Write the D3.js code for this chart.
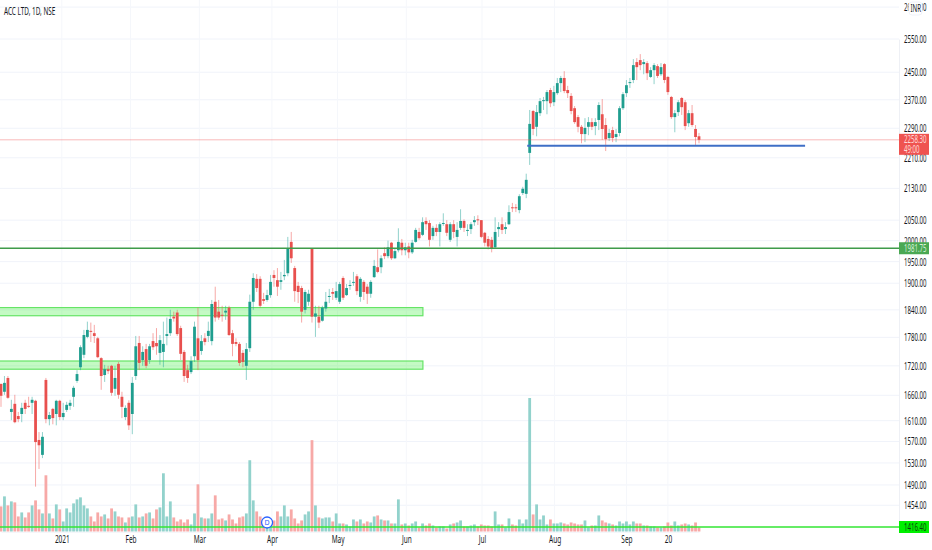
<!DOCTYPE html>
<html>
<head>
<meta charset="utf-8">
<script src="https://cdn.jsdelivr.net/npm/d3@7"></script>
<style>
  html, body { margin: 0; padding: 0; background: #fff; }
  svg { display: block; }
  text { font-family: "Noto Sans", sans-serif; fill: #131722; }
</style>
</head>
<body>
<svg id="chart" width="932" height="550"></svg>
<script>
const opens = [
  1683,1667,1695,1627,1643,1619,1623,1645,1639,1645,
  1649,1573,1545,1691,1613,1633,1623,1649,1617,1631,
  1639,1657,1689,1717,1743,1781,1794,1789,1778,1736,
  1701,1713,1720,1673,1724,1657,1617,1645,1623,1699,
  1768,1732,1755,1732,1772,1768,1747,1749,1783,1789,
  1825,1834,1800,1749,1711,1707,1740,1778,1751,1778,
  1783,1772,1858,1836,1829,1834,1845,1789,1770,1766,
  1747,1720,1757,1858,1910,1910,1864,1862,1873,1919,
  1907,1903,1916,1923,1997,1935,1894,1889,1840,1858,
  1982,1825,1825,1816,1843,1869,1880,1867,1858,1912,
  1873,1894,1901,1916,1869,1903,1892,1876,1914,1937,
  1937,1970,1963,1995,1958,1977,1995,1977,1986,1972,
  1997,2021,2014,2048,2043,2011,2031,2021,2041,2040,
  2002,2040,2009,2031,2048,2024,2028,2045,2052,2050,
  2019,2004,2002,1984,2028,2040,2028,2040,2082,2082,
  2075,2118,2116,2223,2338,2294,2332,2366,2366,2398,
  2363,2389,2418,2433,2398,2381,2346,2321,2294,2274,
  2294,2307,2296,2313,2329,2299,2263,2285,2266,2277,
  2346,2389,2418,2427,2480,2486,2474,2477,2436,2456,
  2468,2444,2474,2436,2378,2321,2335,2375,2363,2304,
  2332,2288,2268
];
const highs = [
  1683,1699,1699,1651,1661,1627,1645,1651,1657,1657,
  1651,1588,1588,1695,1627,1635,1651,1651,1645,1647,
  1651,1679,1711,1763,1796,1814,1812,1807,1781,1738,
  1722,1720,1722,1720,1728,1667,1640,1650,1697,1783,
  1783,1761,1766,1766,1789,1800,1785,1814,1823,1840,
  1836,1840,1805,1753,1722,1740,1814,1845,1785,1789,
  1814,1862,1892,1862,1849,1849,1849,1796,1778,1770,
  1753,1768,1874,1923,1921,1916,1878,1885,1919,1930,
  1935,1926,1954,2009,2021,1940,1903,1894,1885,1885,
  1982,1849,1849,1849,1880,1887,1889,1903,1903,1916,
  1898,1907,1926,1921,1914,1907,1898,1907,1954,1979,
  1965,1984,2000,1997,1982,2030,2004,1995,1995,2002,
  2031,2031,2057,2057,2050,2036,2040,2045,2067,2050,
  2045,2050,2045,2077,2052,2040,2045,2060,2062,2050,
  2021,2011,2009,2057,2045,2057,2045,2087,2093,2090,
  2115,2134,2168,2341,2341,2355,2375,2378,2398,2404,
  2410,2433,2439,2453,2410,2389,2352,2327,2299,2318,
  2321,2318,2318,2363,2372,2318,2288,2294,2288,2352,
  2392,2427,2433,2489,2492,2504,2489,2483,2465,2477,
  2474,2477,2477,2439,2381,2341,2369,2378,2369,2341,
  2355,2299,2277
];
const lows = [
  1637,1661,1653,1611,1605,1607,1607,1623,1635,1623,
  1487,1519,1539,1605,1601,1603,1601,1611,1611,1627,
  1631,1637,1685,1711,1736,1778,1770,1768,1736,1671,
  1687,1703,1659,1659,1653,1615,1611,1592,1584,1691,
  1711,1720,1715,1724,1753,1743,1722,1717,1763,1783,
  1814,1783,1732,1687,1685,1703,1728,1711,1743,1763,
  1770,1763,1814,1818,1814,1818,1783,1740,1761,1720,
  1717,1691,1749,1840,1880,1845,1853,1858,1867,1892,
  1871,1885,1907,1916,1947,1858,1855,1812,1832,1849,
  1812,1781,1800,1814,1836,1855,1862,1862,1853,1862,
  1871,1885,1894,1873,1858,1862,1853,1867,1912,1923,
  1923,1956,1958,1954,1956,1972,1965,1965,1958,1968,
  1995,2002,2011,2026,1986,2002,2011,1986,2036,2011,
  1997,2006,1986,2026,2021,2011,2016,2036,2038,2006,
  1986,1979,1972,1982,2009,2016,2016,2038,2070,2070,
  2067,2113,2105,2191,2271,2268,2324,2341,2329,2349,
  2352,2384,2392,2389,2375,2329,2302,2279,2249,2252,
  2271,2285,2271,2285,2258,2228,2255,2252,2252,2268,
  2341,2378,2404,2418,2427,2456,2444,2427,2433,2415,
  2433,2439,2418,2384,2316,2279,2324,2327,2285,2294,
  2294,2244,2249
];
const closes = [
  1659,1685,1655,1633,1607,1613,1635,1633,1637,1651,
  1569,1563,1579,1613,1621,1615,1649,1617,1625,1641,
  1645,1675,1703,1759,1785,1796,1792,1783,1738,1699,
  1713,1709,1665,1695,1661,1637,1635,1601,1685,1761,
  1726,1749,1720,1761,1759,1761,1774,1766,1787,1820,
  1821,1787,1745,1699,1695,1730,1803,1732,1772,1770,
  1794,1853,1823,1823,1827,1838,1785,1766,1766,1726,
  1728,1755,1858,1912,1889,1849,1860,1873,1903,1912,
  1892,1907,1919,1982,1958,1882,1880,1836,1880,1876,
  1825,1832,1812,1845,1858,1871,1876,1882,1898,1867,
  1889,1896,1903,1882,1910,1880,1876,1903,1940,1926,
  1958,1963,1984,1958,1975,1997,1977,1984,1972,1995,
  2026,2006,2045,2040,2002,2031,2021,2040,2043,2019,
  2040,2021,2026,2048,2031,2026,2040,2050,2050,2009,
  1995,1986,1982,2021,2033,2026,2033,2070,2080,2080,
  2110,2129,2152,2302,2288,2335,2366,2369,2392,2360,
  2392,2418,2433,2395,2389,2338,2307,2294,2274,2291,
  2307,2294,2307,2355,2288,2260,2277,2263,2274,2346,
  2386,2412,2421,2471,2465,2471,2480,2447,2456,2471,
  2439,2465,2427,2392,2321,2332,2363,2349,2296,2332,
  2299,2266,2258.3
];
const volumes = [
  25,35,26,30,29,15,19,14,19,26,
  31,22,18,56,18,13,27,22,10,23,
  19,28,32,34,26,23,15,10,19,15,
  17,13,23,20,15,14,9,14,15,27,
  14,15,18,19,13,22,24,58,15,30,
  14,10,12,9,12,7,18,47,14,13,
  13,18,36,12,13,11,17,12,8,14,
  15,18,71,31,20,15,9,8,11,11,
  20,15,26,15,22,13,8,11,17,20,
  91,26,14,13,14,14,10,18,8,8,
  7,5,12,10,12,8,10,9,15,16,
  12,11,11,8,8,32,7,8,6,8,
  10,4,8,6,8,6,4,5,5,3,
  7,8,9,11,5,5,6,7,5,7,
  6,6,5,20,7,7,4,13,7,6,
  12,8,12,133,17,27,12,16,7,12,
  8,8,9,8,7,9,8,7,7,11,
  4,6,6,16,11,9,8,7,6,10,
  8,10,7,10,8,8,6,6,5,5,
  4,4,5,9,6,10,6,7,8,7,
  6,9,4
];

const priceTicks = [2650,2550,2450,2370,2290,2210,2130,2050,2000,1950,1900,1840,1780,1720,1660,1610,1570,1530,1490,1454];
const dateTicks = [17.6,37.5,57.4,78.4,97.4,117.3,139.2,160.2,181,193];
const dateLabels = ["2021","Feb","Mar","Apr","May","Jun","Jul","Aug","Sep","20"];

const lastPrice = 2258.3;
const supportLine = 1981.75;
const baseLine = 1416.4;
const blueLine = { price: 2242, from: 152.3, to: 232.7 };
const zones = [[1845,1827],[1730,1713]];
const zoneEnd = 122.1;
const dividendBar = 77;

const teal = "#26a69a";
const red = "#ef5350";
const axisX = 899;

const svg = d3.select("#chart");

// log price scale, fixed by two ticks
const y = d3.scaleLog().domain([1416.4, 2550]).range([527, 39]);
const x = d3.scaleLinear().domain([0, opens.length - 1]).range([1, 699]);
const yVol = d3.scaleLinear().domain([0, 133]).range([531.5, 398]);

// reference text is squeezed sideways, so squash the labels
function squeeze(sel, s) {
  sel.each(function () {
    const t = d3.select(this);
    const tx = +t.attr("x") || 0;
    t.attr("x", 0).attr("transform", `translate(${tx},0) scale(${s},1)`);
  });
}

// grid
svg.append("g").selectAll("line").data(priceTicks).join("line")
  .attr("x1", 0).attr("x2", axisX)
  .attr("y1", d => y(d)).attr("y2", d => y(d))
  .attr("stroke", "#f0f3fa");
svg.append("g").selectAll("line").data(dateTicks).join("line")
  .attr("x1", d => x(d)).attr("x2", d => x(d))
  .attr("y1", 0).attr("y2", 532)
  .attr("stroke", "#f5f7fb");

// drawn zones sit under the candles
svg.append("g").selectAll("rect").data(zones).join("rect")
  .attr("x", -2)
  .attr("width", x(zoneEnd) + 2)
  .attr("y", d => y(d[0]))
  .attr("height", d => y(d[1]) - y(d[0]))
  .attr("fill", "#3cf03c").attr("fill-opacity", 0.3)
  .attr("stroke", "#66e466").attr("stroke-width", 1.2);

// volume
svg.append("g").selectAll("rect").data(volumes).join("rect")
  .attr("x", (d, i) => x(i) - 1.4)
  .attr("width", 2.8)
  .attr("y", d => yVol(d))
  .attr("height", d => yVol(0) - yVol(d))
  .attr("fill", (d, i) => closes[i] >= opens[i] ? "#92d2cc" : "#f7a9a7");

// candles
const candles = svg.append("g");
candles.selectAll("line").data(opens).join("line")
  .attr("x1", (d, i) => x(i)).attr("x2", (d, i) => x(i))
  .attr("y1", (d, i) => y(highs[i])).attr("y2", (d, i) => y(lows[i]))
  .attr("stroke", (d, i) => closes[i] >= opens[i] ? teal : red)
  .attr("stroke-opacity", 0.5)
  .attr("stroke-width", 1);
candles.selectAll("rect").data(opens).join("rect")
  .attr("x", (d, i) => x(i) - 1.4)
  .attr("width", 2.8)
  .attr("y", (d, i) => y(Math.max(opens[i], closes[i])))
  .attr("height", (d, i) => Math.max(1, Math.abs(y(opens[i]) - y(closes[i]))))
  .attr("fill", (d, i) => closes[i] >= opens[i] ? "#1f9e8f" : "#e8504e");

// horizontal lines
function hline(price, color, width, opacity) {
  svg.append("line")
    .attr("x1", 0).attr("x2", axisX)
    .attr("y1", y(price)).attr("y2", y(price))
    .attr("stroke", color).attr("stroke-width", width).attr("stroke-opacity", opacity);
}
hline(lastPrice, red, 1, 0.4);
hline(supportLine, "#3f9b4b", 1.3, 1);
hline(baseLine, "#33e633", 1.4, 1);

svg.append("line")
  .attr("x1", x(blueLine.from)).attr("x2", x(blueLine.to))
  .attr("y1", y(blueLine.price)).attr("y2", y(blueLine.price))
  .attr("stroke", "#3f6fc6").attr("stroke-width", 2);

// dividend marker
svg.append("circle")
  .attr("cx", x(dividendBar)).attr("cy", 522.5).attr("r", 5.5)
  .attr("fill", "#fff").attr("stroke", "#2962ff").attr("stroke-width", 1.3);
svg.append("text")
  .attr("x", x(dividendBar)).attr("y", 525)
  .attr("text-anchor", "middle").attr("font-size", 7)
  .style("fill", "#2962ff").text("D");

// axes
const yAxis = svg.append("g")
  .attr("transform", `translate(${axisX},0)`)
  .call(d3.axisRight(y).tickValues(priceTicks).tickFormat(d3.format(".2f")).tickSize(0).tickPadding(5));
yAxis.select(".domain").attr("stroke", "#eef0f5");
yAxis.selectAll("text").attr("font-size", 10.5).attr("font-family", '"Noto Sans", sans-serif').call(squeeze, 0.58);

const xAxis = svg.append("g")
  .attr("transform", "translate(0,532)")
  .call(d3.axisBottom(x).tickValues(dateTicks).tickFormat((d, i) => dateLabels[i]).tickSize(0).tickPadding(4));
xAxis.select(".domain").attr("stroke", "#f5f6fa");
xAxis.selectAll("text").attr("font-size", 10.5).attr("font-family", '"Noto Sans", sans-serif').call(squeeze, 0.62);
xAxis.selectAll("text").attr("text-anchor", "middle");

// price tags
function tag(price, h, color, textColor, label, sub) {
  const top = y(price) - 6;
  svg.append("rect").attr("x", axisX).attr("y", top).attr("width", 30).attr("height", h).attr("fill", color);
  svg.append("text").attr("transform", `translate(904,${top + 9.5}) scale(0.58,1)`)
    .attr("font-size", 10.5).style("fill", textColor).text(label);
  if (sub) {
    svg.append("text").attr("transform", `translate(904,${top + 19}) scale(0.58,1)`)
      .attr("font-size", 10.5).style("fill", textColor).text(sub);
  }
}
tag(lastPrice, 21, red, "#ffd9d8", "2258.30", "49:00");
tag(supportLine, 12, "#4aa853", "#d8f0da", "1981.75");
tag(baseLine, 12, "#00f000", "#0d3d0d", "1416.40");

// currency box
svg.append("rect").attr("x", 909).attr("y", 2).attr("width", 13).attr("height", 13).attr("rx", 3)
  .attr("fill", "#fff").attr("stroke", "#f0f3fa");
svg.append("text").attr("transform", "translate(910.5,12) scale(0.58,1)")
  .attr("font-size", 10.5).text("INR");

// title
svg.append("text").attr("transform", "translate(4,15) scale(0.58,1)")
  .attr("font-size", 11).text("ACC LTD, 1D, NSE");
</script>
</body>
</html>
